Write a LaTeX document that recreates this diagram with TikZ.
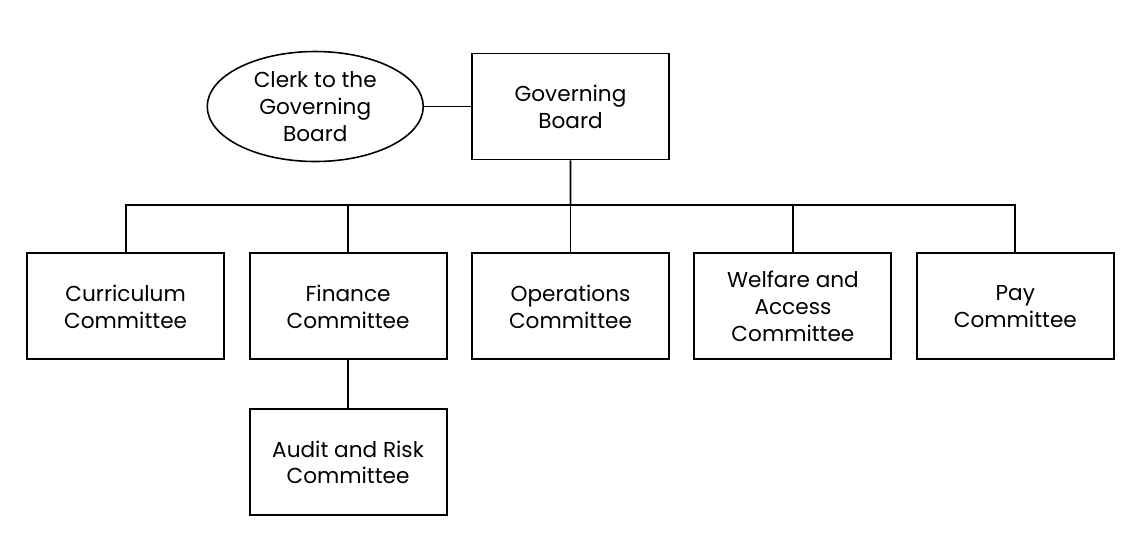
\documentclass[tikz,border=0pt]{standalone}
\usepackage{fontspec}
\setmainfont{Poppins}
\usetikzlibrary{positioning, calc, shapes}

\begin{document}
\begin{tikzpicture}[line width = 1.1pt,
    every node/.style = {font=\fontsize{12.3}{15.3}\selectfont, align=center},
    committee/.style = {draw, rectangle, minimum width = 3.94cm,
      minimum height = 2.12cm, inner sep = 0},
    clerk/.style = {draw, ellipse, line width = 0.9pt, minimum width = 4.32cm,
      minimum height = 2.2cm, inner sep = 0}]
    \useasboundingbox (0,0) rectangle (22.8,-11.16);

    \node[committee] (gov-board) at (11.41,-2.13) {Governing\\Board};
    \node[clerk, left = 0.94 of gov-board] (clerk) {Clerk to the\\Governing\\Board};

    \node[committee, below = 1.84 of gov-board] (ops-com) {Operations\\Committee};
    \node[committee, left = 0.47 of ops-com] (fin-com) {Finance\\Committee};
    \node[committee, left = 0.47 of fin-com] (curr-com) {Curriculum\\Committee};
    \node[committee, right = 0.47 of ops-com] (welf-com)
      {Welfare and\\Access\\Committee};
    \node[committee, right = 0.47 of welf-com] (pay-com) {Pay\\Committee};
    \node[committee, below = 0.96 of fin-com] (audit-com)
      {Audit and Risk\\Committee};

    \coordinate (bus) at ($(gov-board.south)!0.484!(ops-com.north)$);

    \draw (clerk) -- (gov-board);
    \draw (gov-board) -- (bus);
    \draw (curr-com.north) |- (bus) -| (pay-com.north);
    \foreach \x in {fin, ops, welf}{
      \draw (\x-com.north) -- (\x-com.north |- bus);
    }
    \draw (fin-com) -- (audit-com);
\end{tikzpicture}
\end{document}
